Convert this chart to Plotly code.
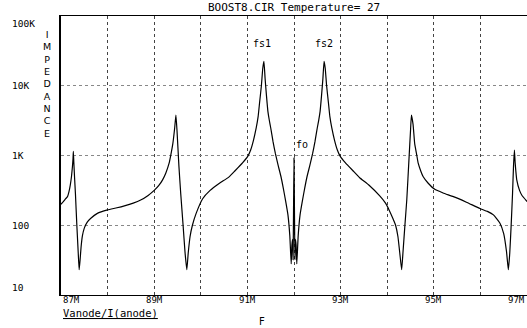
import math
import plotly.graph_objects as go

# Frequency (MHz) and impedance (ohms)
freq_mhz = [
    87.00, 87.05, 87.10, 87.14, 87.17, 87.20, 87.225, 87.245, 87.258, 87.265,
    87.275, 87.29, 87.31, 87.34, 87.37, 87.39, 87.41, 87.43, 87.46, 87.50,
    87.56, 87.64, 87.78, 88.00, 88.20, 88.36, 88.55, 88.71, 88.87, 89.00,
    89.10, 89.18, 89.25, 89.32, 89.36, 89.40, 89.44, 89.466, 89.49, 89.53,
    89.57, 89.62, 89.66, 89.70, 89.73, 89.77, 89.82, 89.90, 90.04, 90.20,
    90.40, 90.60, 90.73, 90.90, 91.01, 91.07, 91.13, 91.19, 91.23, 91.26,
    91.30, 91.33, 91.355, 91.38, 91.41, 91.44, 91.47, 91.50, 91.55, 91.60,
    91.66, 91.72, 91.77, 91.82, 91.87, 91.91, 91.94, 91.955, 91.97, 91.98,
    91.99, 92.00, 92.01, 92.02, 92.03, 92.045, 92.06, 92.09, 92.13, 92.18,
    92.23, 92.28, 92.34, 92.40, 92.45, 92.50, 92.53, 92.56, 92.59, 92.62,
    92.645, 92.67, 92.70, 92.74, 92.77, 92.81, 92.87, 92.93, 92.99, 93.10,
    93.27, 93.41, 93.60, 93.84, 93.96, 94.04, 94.12, 94.18, 94.23, 94.27,
    94.31, 94.34, 94.38, 94.42, 94.47, 94.50, 94.52, 94.555, 94.59, 94.63,
    94.665, 94.72, 94.77, 94.88, 95.02, 95.20, 95.42, 95.70, 95.99, 96.15,
    96.28, 96.42, 96.50, 96.56, 96.60, 96.63, 96.66, 96.69, 96.71, 96.73,
    96.745, 96.76, 96.78, 96.84, 96.89, 97.00,
]
impedance = [
    200, 218, 240, 257, 300, 380, 500, 690, 900, 1150,
    800, 500, 280, 100, 40, 23, 32, 48, 71, 91,
    110, 126, 148, 166, 178, 190, 208, 230, 268, 316,
    372, 447, 562, 776, 1050, 1480, 2500, 3800, 2240, 710,
    280, 100, 42, 23, 40, 69, 100, 148, 240, 316,
    400, 490, 600, 790, 980, 1200, 1650, 2500, 3600, 5600,
    10000, 17800, 22400, 12600, 7100, 4300, 3200, 2500, 1580, 1070,
    720, 500, 340, 224, 141, 71, 28, 52, 63, 32,
    160, 930, 160, 32, 63, 52, 28, 71, 141, 224,
    340, 500, 720, 1070, 1580, 2500, 3200, 4300, 7100, 12600,
    22400, 17800, 10000, 5600, 3600, 2500, 1650, 1200, 980, 790,
    600, 480, 380, 263, 209, 166, 126, 100, 69, 40,
    23, 42, 100, 230, 955, 2240, 3800, 2800, 1480, 1050,
    776, 600, 500, 400, 327, 290, 257, 214, 174, 158,
    141, 107, 76, 42, 23, 40, 100, 288, 690, 1200,
    800, 600, 447, 316, 269, 219,
]

x_tick_vals = [87, 89, 91, 93, 95, 97]
x_tick_text = ["87M", "89M", "91M", "93M", "95M", "97M"]
y_tick_vals = [100000, 10000, 1000, 100, 10]
y_tick_text = ["100K", "10K", "1K", "100", "10"]

marker_labels = ["fs1", "fs2", "fo"]
marker_freq = [91.32, 92.65, 92.18]
marker_imp = [41000, 41000, 1460]

title_text = "BOOST8.CIR Temperature= 27"
y_title = "IMPEDANCE"
trace_name = "Vanode/I(anode)"
x_title = "F"

W, H = 527, 328
ML, MR, MT, MB = 61, 0, 16, 33
pw = W - ML - MR
ph = H - MT - MB

fig = go.Figure()
fig.add_trace(go.Scatter(x=freq_mhz, y=impedance, mode="lines",
                         line=dict(color="black", width=1.2, shape="spline", smoothing=0.4),
                         showlegend=False, hoverinfo="skip"))

mono = "DejaVu Sans Mono"
anns = []
anns.append(dict(text=title_text, xref="paper", yref="paper", x=0.5, y=1,
                 xanchor="center", yanchor="bottom", yshift=0, showarrow=False,
                 font=dict(family=mono, size=11, color="black")))
for v, t in zip(y_tick_vals, y_tick_text):
    ya = "middle"
    if v == y_tick_vals[0]:
        ya = "top"
    elif v == y_tick_vals[-1]:
        ya = "bottom"
    anns.append(dict(text=t, xref="paper", yref="y", x=(10 - ML) / pw, y=math.log10(v),
                     xanchor="left", yanchor=ya, showarrow=False,
                     font=dict(family=mono, size=9.5, color="black")))
for v, t in zip(x_tick_vals, x_tick_text):
    xa = "center"
    if v == x_tick_vals[0]:
        xa = "left"
    elif v == x_tick_vals[-1]:
        xa = "right"
    anns.append(dict(text=t, xref="x", yref="paper", x=v, y=(H - MB - 300) / ph,
                     xanchor=xa, yanchor="middle", showarrow=False,
                     font=dict(family=mono, size=9, color="black")))
anns.append(dict(text="<br>".join(list(y_title)), xref="paper", yref="paper",
                 x=(47 - ML) / pw, y=(295 - 84) / ph, xanchor="center", yanchor="middle",
                 showarrow=False, font=dict(family="DejaVu Sans", size=9.5, color="black")))
for lab, fx, iy in zip(marker_labels, marker_freq, marker_imp):
    anns.append(dict(text=lab, xref="x", yref="y", x=fx, y=math.log10(iy),
                     xanchor="center", yanchor="middle", showarrow=False,
                     font=dict(family=mono, size=10, color="black")))
anns.append(dict(text="<u>" + trace_name + "</u>", xref="paper", yref="paper",
                 x=0, y=(H - MB - 313) / ph, xanchor="left", yanchor="middle",
                 showarrow=False, font=dict(family=mono, size=10.5, color="black")))
anns.append(dict(text=x_title, xref="paper", yref="paper",
                 x=(262 - ML) / pw, y=(H - MB - 321) / ph, xanchor="center", yanchor="middle",
                 showarrow=False, font=dict(family="DejaVu Sans", size=10, color="black")))

fig.update_layout(
    width=W, height=H,
    margin=dict(l=ML, r=MR, t=MT, b=MB),
    paper_bgcolor="white", plot_bgcolor="white",
    xaxis=dict(range=[87, 97], dtick=1, tick0=87, showticklabels=False, ticks="",
               showgrid=True, gridcolor="#444", griddash="dot", gridwidth=1,
               showline=True, linecolor="black", linewidth=1, mirror=True, zeroline=False),
    yaxis=dict(type="log", range=[1, 5], dtick=1, showticklabels=False, ticks="",
               showgrid=True, gridcolor="#888", griddash="dot", gridwidth=1,
               showline=True, linecolor="black", linewidth=1.5, mirror=False, zeroline=False),
    annotations=anns,
)

fig.write_html("out.html")
